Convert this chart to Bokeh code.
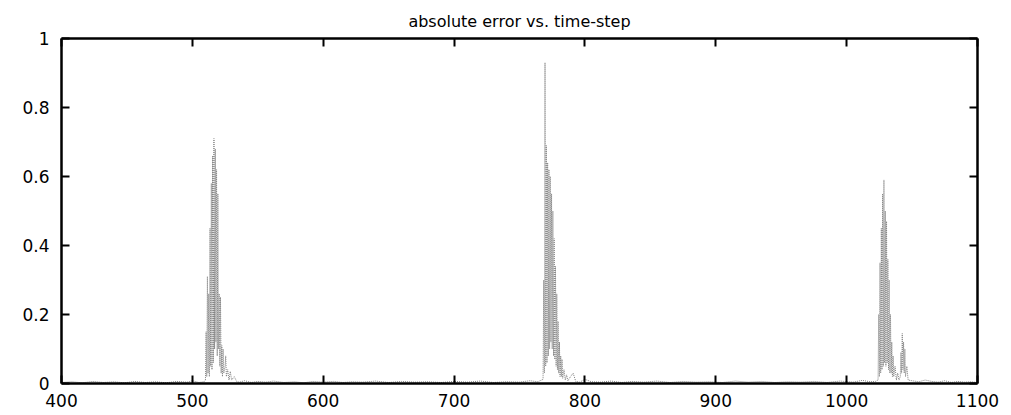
from bokeh.plotting import figure
from bokeh.models import LinearAxis, FixedTicker, CustomJSTickFormatter, Range1d
from bokeh.embed import file_html
from bokeh.resources import INLINE

# ---- data ----
time_step = [
    400, 408, 416, 424, 432, 440, 448, 456, 464, 472, 480, 488, 496, 500, 505, 509,
    510, 510.5, 511, 511.5, 512, 512.5, 513, 513.5, 514, 514.5, 515, 515.5, 516, 516.5,
    517, 517.5, 518, 518.5, 519, 519.5, 520, 520.5, 521, 521.5, 522, 522.5, 523, 523.5,
    524, 525, 525.5, 526, 527, 528, 529, 530, 532, 534,
    536, 540, 545, 550, 556, 562, 570, 578, 585, 592, 600, 608, 615, 622, 630, 640,
    650, 660, 670, 680, 690, 700, 710, 720, 730, 740, 750, 758, 764, 768,
    768.5, 769, 769.5, 770, 770.5, 771, 771.5, 772, 772.5, 773, 773.5, 774, 774.5, 775,
    775.5, 776, 776.5, 777, 777.5, 778, 778.5, 779, 779.5, 780, 780.5, 781, 781.5, 782,
    782.5, 783, 784, 785, 786, 787, 789, 791, 793, 796, 800, 805,
    812, 820, 828, 836, 845, 855, 865, 875, 885, 895, 905, 915, 925, 935, 945, 955,
    965, 975, 985, 995, 1005, 1012, 1018, 1022,
    1024, 1024.5, 1025, 1025.5, 1026, 1026.5, 1027, 1027.5, 1028, 1028.5, 1029, 1029.5,
    1030, 1030.5, 1031, 1031.5, 1032, 1032.5, 1033, 1033.5, 1034, 1034.5, 1035, 1035.5,
    1036, 1037, 1038, 1039, 1040, 1041, 1041.5, 1042, 1042.5, 1043, 1043.5, 1044, 1044.5,
    1045, 1046, 1047, 1050, 1055, 1060, 1065, 1070, 1075, 1080, 1085, 1090, 1095, 1100,
]
abs_error = [
    0.003, 0.005, 0.002, 0.006, 0.003, 0.005, 0.002, 0.006, 0.003, 0.005, 0.002, 0.006, 0.004, 0.008, 0.003, 0.005,
    0.01, 0.15, 0.02, 0.31, 0.03, 0.26, 0.02, 0.45, 0.05, 0.58, 0.04, 0.66, 0.06, 0.71,
    0.1, 0.68, 0.12, 0.62, 0.08, 0.55, 0.1, 0.26, 0.05, 0.25, 0.03, 0.11, 0.02, 0.1,
    0.03, 0.05, 0.08, 0.02, 0.04, 0.01, 0.035, 0.01, 0.02, 0.005,
    0.004, 0.008, 0.003, 0.006, 0.004, 0.007, 0.003, 0.005, 0.002, 0.006, 0.004, 0.006, 0.003, 0.005, 0.004, 0.007,
    0.003, 0.006, 0.004, 0.005, 0.003, 0.006, 0.004, 0.007, 0.003, 0.005, 0.004, 0.008, 0.005, 0.012,
    0.3, 0.03, 0.93, 0.05, 0.69, 0.06, 0.64, 0.08, 0.62, 0.1, 0.6, 0.12, 0.55, 0.1,
    0.5, 0.08, 0.42, 0.07, 0.34, 0.05, 0.26, 0.04, 0.18, 0.03, 0.12, 0.02, 0.08, 0.02,
    0.07, 0.015, 0.04, 0.01, 0.025, 0.008, 0.02, 0.03, 0.006, 0.004, 0.012, 0.005,
    0.004, 0.007, 0.003, 0.006, 0.004, 0.007, 0.003, 0.006, 0.004, 0.005, 0.003, 0.007, 0.004, 0.006, 0.003, 0.005,
    0.004, 0.006, 0.003, 0.007, 0.004, 0.009, 0.005, 0.006,
    0.01, 0.2, 0.02, 0.35, 0.03, 0.45, 0.04, 0.55, 0.05, 0.59, 0.06, 0.5,
    0.05, 0.47, 0.06, 0.36, 0.04, 0.3, 0.03, 0.2, 0.03, 0.12, 0.02, 0.08,
    0.02, 0.05, 0.01, 0.03, 0.01, 0.02, 0.09, 0.03, 0.145, 0.04, 0.12, 0.03, 0.1,
    0.02, 0.05, 0.01, 0.008, 0.005, 0.01, 0.006, 0.004, 0.008, 0.003, 0.006, 0.004, 0.005, 0.003,
]
x_ticks = [400, 500, 600, 700, 800, 900, 1000, 1100]
y_ticks = [0, 0.2, 0.4, 0.6, 0.8, 1]
y_tick_labels = ["0", "0.2", "0.4", "0.6", "0.8", "1"]
title_text = "absolute error vs. time-step"

FONT = "DejaVu Sans"

p = figure(width=1003, height=415, x_range=Range1d(400, 1100), y_range=Range1d(0, 1),
           output_backend="svg", toolbar_location=None, title=title_text,
           min_border_left=61, min_border_right=26, min_border_top=38, min_border_bottom=32)
p.title.align = "center"
p.title.text_font = FONT
p.title.text_font_size = "16px"
p.title.text_font_style = "normal"
p.title.text_color = "black"
p.title.standoff = 16
p.grid.visible = False
p.outline_line_color = None
p.background_fill_color = "white"
p.border_fill_color = "white"

p.line(time_step, abs_error, line_color="#808080", line_width=1, line_dash="1 1")

def style_axis(ax, labels=True):
    ax.axis_line_width = 2.5
    ax.axis_line_color = "black"
    ax.major_tick_in = 8
    ax.major_tick_out = 0
    ax.major_tick_line_width = 2
    ax.minor_tick_line_color = None
    ax.major_label_text_font = FONT
    ax.major_label_text_font_size = "17px"
    ax.major_label_text_color = "black"
    if not labels:
        ax.formatter = CustomJSTickFormatter(code="return ''")
        ax.major_label_standoff = 0

xa = p.xaxis[0]
xa.ticker = FixedTicker(ticks=x_ticks)
style_axis(xa)
xa.major_label_standoff = 10

ya = p.yaxis[0]
ya.ticker = FixedTicker(ticks=y_ticks)
ya.major_label_overrides = {t: l for t, l in zip(y_ticks, y_tick_labels)}
style_axis(ya)
ya.major_label_standoff = 12

top = LinearAxis(ticker=FixedTicker(ticks=x_ticks))
style_axis(top, labels=False)
p.add_layout(top, "above")
right = LinearAxis(ticker=FixedTicker(ticks=y_ticks))
style_axis(right, labels=False)
p.add_layout(right, "right")

open("out.html", "w").write(file_html(p, INLINE))
